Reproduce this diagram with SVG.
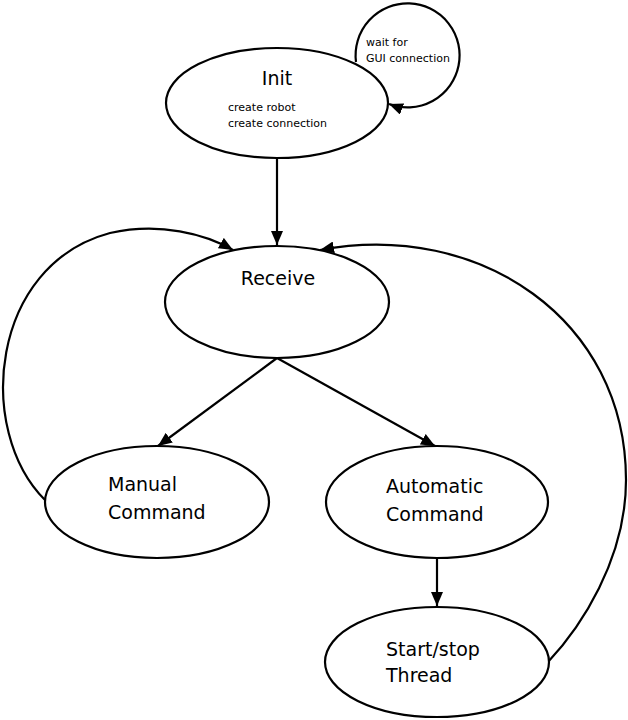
<svg xmlns="http://www.w3.org/2000/svg" width="628" height="720" viewBox="0 0 628 720">
<defs>
<marker id="arr" viewBox="0 0 14 12" refX="14" refY="6" markerWidth="14" markerHeight="12" markerUnits="userSpaceOnUse" orient="auto">
<path d="M0,0 L14,6 L0,12 Z" fill="#000"/>
</marker>
<style>
.node{fill:#fff;stroke:#000;stroke-width:2.2}
.edge{fill:none;stroke:#000;stroke-width:2.2;marker-end:url(#arr)}
.t{font-family:"DejaVu Sans",Verdana,sans-serif;fill:#000}
.big{font-size:19px}
.small{font-size:11px}
</style>
</defs>
<rect width="628" height="720" fill="#fff"/>
<g id="connectors">
<path class="edge" d="M356,62 A52,52 0 1 1 389,104"/>
<path class="edge" d="M277,158 L277,245"/>
<path class="edge" d="M277,358 L158,446"/>
<path class="edge" d="M277,358 L435,446"/>
<path class="edge" d="M437,558 L437,606"/>
<path class="edge" d="M45,500 C -25,430 -10,265 110,233 C 160,222 205,234 233,250"/>
<path class="edge" d="M548,662 C 580,628 626,560 626,480 C 626,320 480,220 320,250"/>
</g>
<g id="init">
<ellipse class="node" cx="277" cy="103" rx="111" ry="55"/>
<text class="t big" x="277" y="85" text-anchor="middle">Init</text>
<text class="t small" x="228" y="111">create robot</text>
<text class="t small" x="228" y="127">create connection</text>
</g>
<g id="wait-label">
<text class="t small" x="366" y="46">wait for</text>
<text class="t small" x="366" y="62">GUI connection</text>
</g>
<g id="receive">
<ellipse class="node" cx="277" cy="302" rx="112" ry="56"/>
<text class="t big" x="278" y="285" text-anchor="middle">Receive</text>
</g>
<g id="manual">
<ellipse class="node" cx="157" cy="502" rx="112" ry="56"/>
<text class="t big" x="108" y="491">Manual</text>
<text class="t big" x="108" y="519">Command</text>
</g>
<g id="automatic">
<ellipse class="node" cx="437" cy="502" rx="111" ry="56"/>
<text class="t big" x="386" y="493">Automatic</text>
<text class="t big" x="386" y="521">Command</text>
</g>
<g id="startstop">
<ellipse class="node" cx="437" cy="662" rx="112" ry="55"/>
<text class="t big" x="386" y="656">Start/stop</text>
<text class="t big" x="386" y="682">Thread</text>
</g>
</svg>
